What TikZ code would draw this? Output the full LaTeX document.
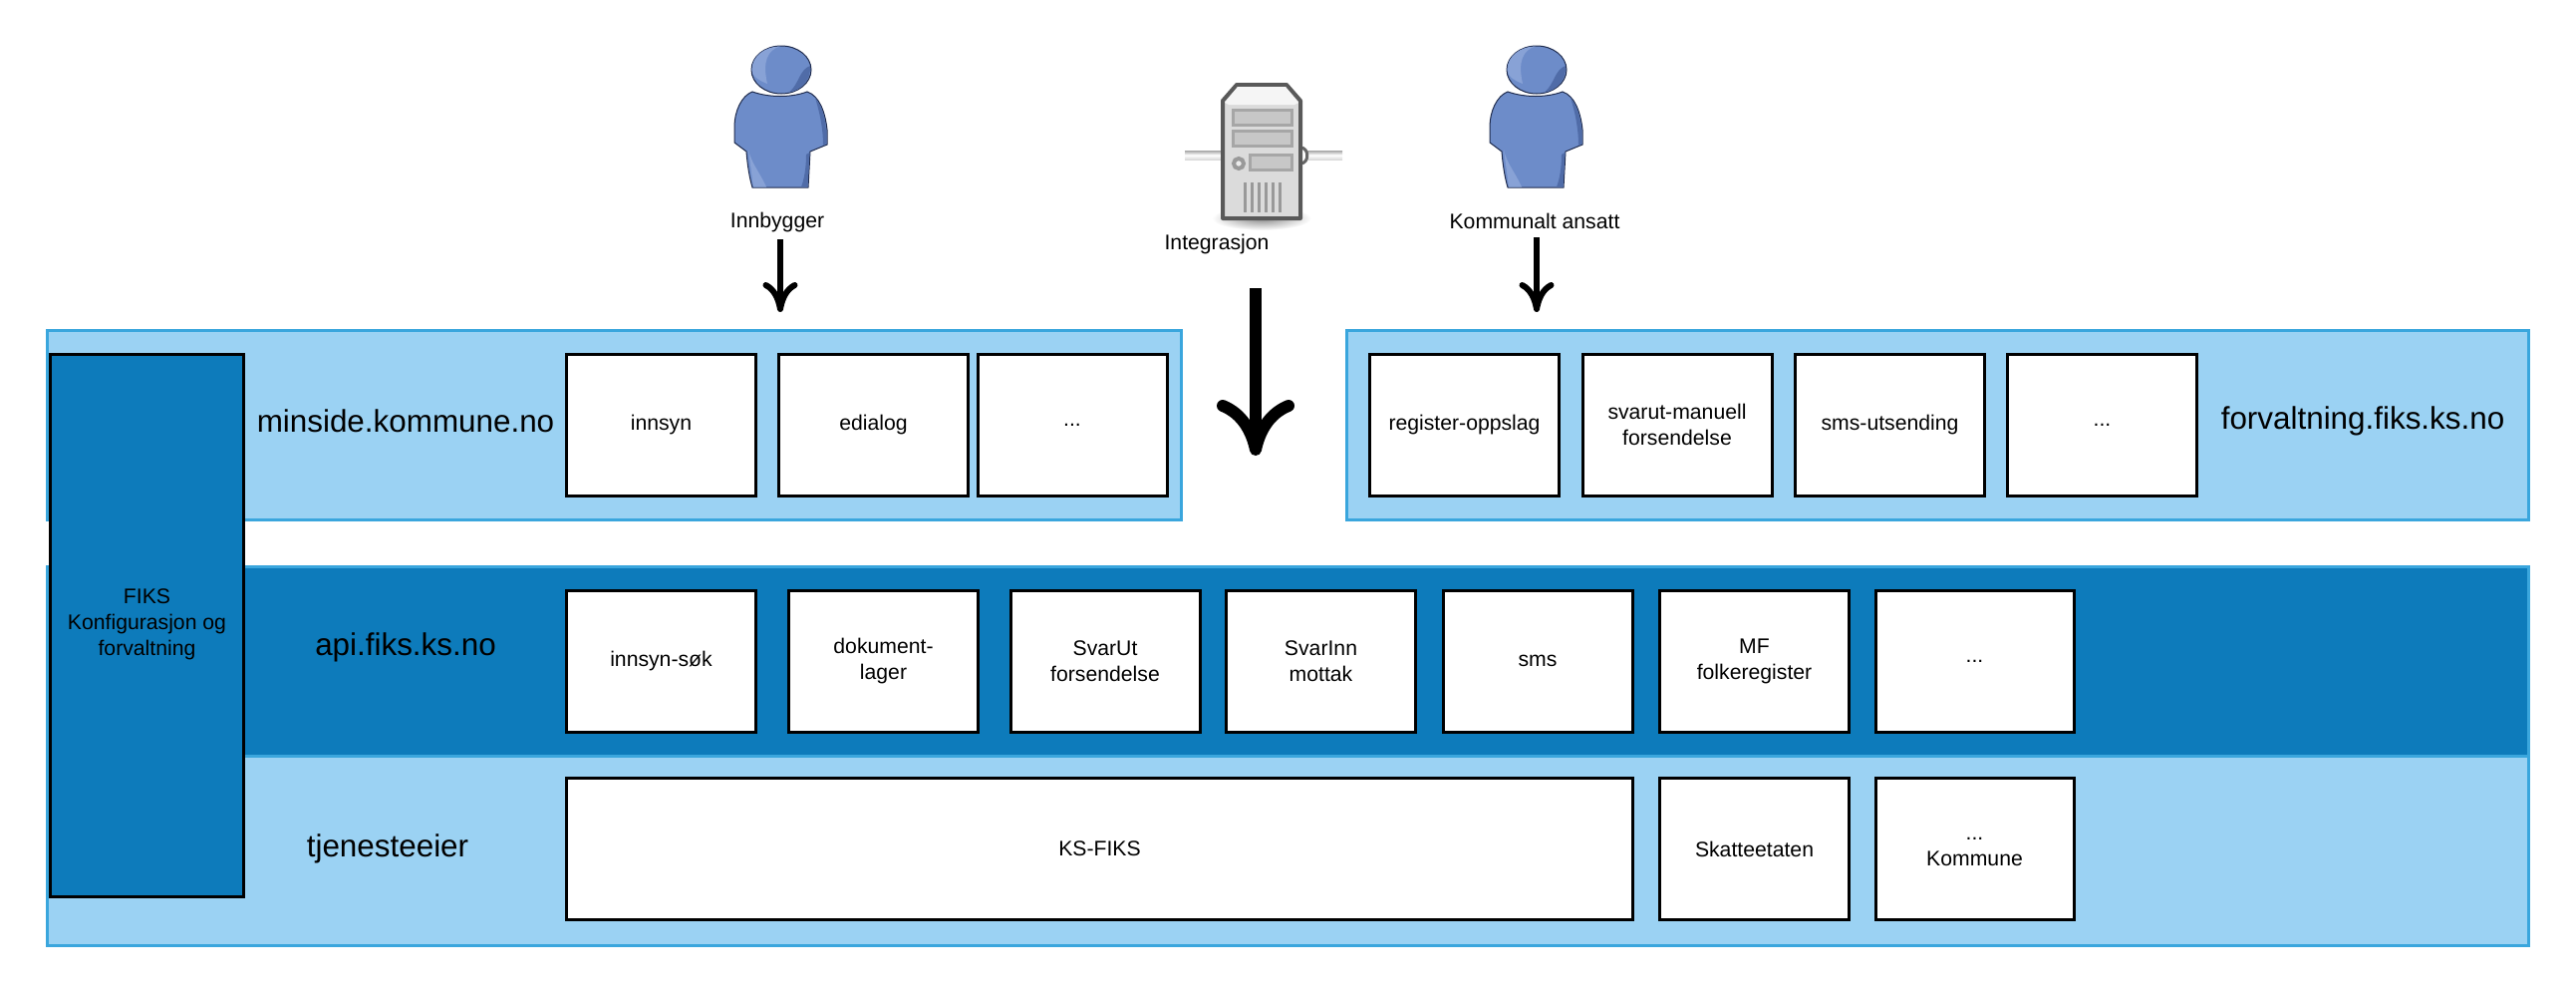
\documentclass[tikz,border=0pt]{standalone}
\usepackage{fontspec}
\setmainfont{Liberation Sans}
\usetikzlibrary{arrows.meta,shapes.geometric}
\definecolor{lysblaa}{HTML}{9BD2F3}
\definecolor{morkblaa}{HTML}{0D7BBB}
\definecolor{kantblaa}{HTML}{3AA6DD}
\definecolor{personblaa}{HTML}{6D8CC9}
\definecolor{personmork}{HTML}{506CA8}
\definecolor{personlys}{HTML}{88A2D6}
\definecolor{personkant}{HTML}{1E2A4C}
\tikzset{
  panel/.style={draw=kantblaa, line width=1.5pt, fill=lysblaa, inner sep=0pt, outer sep=0pt},
  tjeneste/.style={draw=black, line width=1.5pt, fill=white, align=center, inner sep=0pt, outer sep=0pt,
    minimum width=95pt, minimum height=71pt, font=\fontsize{10.6}{13}\selectfont},
  tekst/.style={align=center, inner sep=0pt, font=\fontsize{10.6}{13}\selectfont},
  domene/.style={inner sep=0pt, font=\fontsize{15.7}{18}\selectfont},
  pil/.style={draw=black, line width=3pt, -{Computer Modern Rightarrow[length=15pt,width=17.5pt]}},
  storpil/.style={draw=black, line width=6pt, -{Computer Modern Rightarrow[length=28pt,width=39pt]}},
  person/.pic={
    % body
    \path[fill=personblaa, draw=personkant, line width=0.5pt] (-29,22) .. controls (-40,26) and (-47,42) .. (-47,57)
      -- (-47,73) -- (-35,82) .. controls (-34,95) and (-32,108) .. (-29,118) -- (27,118) -- (29,82) -- (46,75) -- (46,60)
      .. controls (44,42) and (38,26) .. (26,22) .. controls (10,28) and (-12,28) .. (-29,22) -- cycle;
    \fill[personmork] (34,28) .. controls (41,36) and (45.5,50) .. (45.5,74) -- (42,76) .. controls (42,60) and (39,44) .. (34,28) -- cycle;
    \fill[personmork] (26.5,117.5) -- (28.5,83) -- (25,85) .. controls (25,98) and (23,110) .. (20,117.5) -- cycle;
    \fill[personlys] (-28,117.5) -- (-33,80) .. controls (-30,94) and (-22,102) .. (-15,117.5) -- cycle;
    % head
    \path[fill=personblaa, draw=personkant, line width=0.5pt] (0,0) ellipse [x radius=30, y radius=24];
    \fill[personlys] (-1,-23.5) .. controls (-14,-20) and (-19,-8) .. (-14,14) .. controls (-24,10) and (-29.5,6) .. (-29.5,0)
      .. controls (-29.5,-14) and (-16,-23.5) .. (-1,-23.5) -- cycle;
    \fill[personmork] (29,-4) .. controls (18,0) and (18,14) .. (8,22.5) .. controls (20,21) and (30,10) .. (29,-4) -- cycle;
  }
}
\begin{document}
\begin{tikzpicture}[x=0.5pt,y=-0.5pt]
  \useasboundingbox (0,0) rectangle (2585,996);
  % Top panels
  \node[panel, minimum width=569pt, minimum height=95pt] (minside) at (616,426) {};
  \node[panel, minimum width=593pt, minimum height=95pt] (forvaltning) at (1944,426) {};
  % Bands
  \node[panel, fill=morkblaa, minimum width=1245pt, minimum height=95pt] (api) at (1292,663) {};
  \node[panel, minimum width=1245pt, minimum height=95pt] (tjenesteeier) at (1292,853) {};
  % Side box
  \node[draw=black, line width=1.5pt, fill=morkblaa, inner sep=0pt, outer sep=0pt, minimum width=97pt, minimum height=272pt] (konfig) at (147.5,627.5) {};
  \node[tekst] (konfigtekst) at (147.5,626) {FIKS\\Konfigurasjon og\\forvaltning};
  % Domain labels
  \node[domene] (minsidetekst) at (407,422) {minside.kommune.no};
  \node[domene] (forvaltningtekst) at (2371,422) {forvaltning.fiks.ks.no};
  \node[domene] (apitekst) at (407,649) {api.fiks.ks.no};
  \node[domene] (eiertekst) at (389,851) {tjenesteeier};
  % Row 1
  \node[tjeneste] (innsyn) at (663.5,426) {innsyn};
  \node[tjeneste] (edialog) at (876.5,426) {edialog};
  \node[tjeneste] (flerea) at (1076,426) {...};
  \node[tjeneste] (oppslag) at (1469.5,426) {register-oppslag};
  \node[tjeneste] (manuell) at (1683,426) {svarut-manuell\\forsendelse};
  \node[tjeneste] (utsending) at (1896.5,426) {sms-utsending};
  \node[tjeneste] (flereb) at (2109.5,426) {...};
  % Row 2
  \node[tjeneste] (sok) at (663.5,663) {innsyn-søk};
  \node[tjeneste] (lager) at (886.5,663) {dokument-\\lager};
  \node[tjeneste] (svarut) at (1109,663) {SvarUt\\forsendelse};
  \node[tjeneste] (svarinn) at (1325.5,663) {SvarInn\\mottak};
  \node[tjeneste] (sms) at (1543,663) {sms};
  \node[tjeneste] (folkereg) at (1760.5,663) {MF\\folkeregister};
  \node[tjeneste, minimum width=99.5pt] (flerec) at (1981.5,663) {...};
  % Row 3
  \node[tjeneste, minimum width=535pt] (ksfiks) at (1103.5,851.5) {KS-FIKS};
  \node[tjeneste] (skatt) at (1760.5,851.5) {Skatteetaten};
  \node[tjeneste, minimum width=99.5pt] (kommune) at (1981.5,851.5) {\rule{0pt}{4.2pt}...\\Kommune};
  % Persons
  \pic at (784,70) {person};
  \pic at (1542,70) {person};
  \node[tekst] (innbygger) at (780,223) {Innbygger};
  \node[tekst] (ansatt) at (1540,222) {Kommunalt ansatt};
  % Server
  \shade[inner color=black!45, outer color=white] (1266,219) ellipse [x radius=50, y radius=12];
  \shade[top color=black!35, bottom color=black!15, middle color=white] (1189,151) rectangle (1228,160);
  \shade[top color=black!35, bottom color=black!15, middle color=white] (1304,151) rectangle (1347,160);
  \draw[black!60, line width=1.5pt, fill=white] (1305,148) .. controls (1314,148) and (1314,164) .. (1305,164) -- cycle;
  \draw[black!65, line width=2pt, fill=black!14, line join=round] (1227,101) -- (1241,85) -- (1291,85) -- (1305,101) -- (1305,219) -- (1227,219) -- cycle;
  \fill[black!4] (1229,103) -- (1242,87) -- (1290,87) -- (1303,103) -- (1299,105) -- (1233,105) -- cycle;
  \draw[black!35, line width=1.5pt, fill=black!22] (1237,110) rectangle (1296,125);
  \draw[black!35, line width=1.5pt, fill=black!22] (1237,131) rectangle (1296,146);
  \draw[black!35, line width=1.5pt, fill=black!22] (1254,155) rectangle (1296,170);
  \draw[black!40, line width=2pt, fill=black!8] (1243,164) circle [radius=5];
  \foreach \vx in {1248,1255,1262,1269,1276,1283} {
    \fill[black!40] (\vx,183) rectangle (\vx+3,213);
  }
  \node[tekst] (integrasjon) at (1221,245) {Integrasjon};
  % Arrows
  \coordinate (innpil) at (783,313);
  \coordinate (ansattpil) at (1542,313);
  \coordinate (integrasjonpil) at (1260,457);
  \draw[pil] (innbygger.south -| innpil) ++(0,7) -- (innpil);
  \draw[pil] (ansatt.south -| ansattpil) ++(0,8) -- (ansattpil);
  \draw[storpil] (integrasjon.south -| integrasjonpil) ++(0,34) -- (integrasjonpil);
\end{tikzpicture}
\end{document}
